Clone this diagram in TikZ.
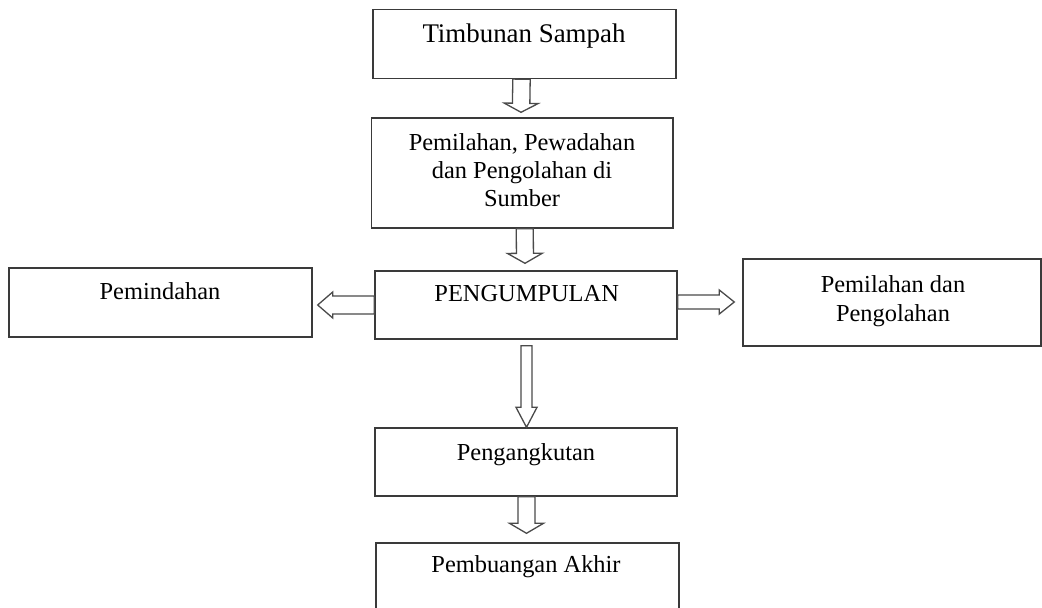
\documentclass[tikz,border=0pt]{standalone}
\usepackage{fontspec}
\setmainfont{Liberation Serif}
\usetikzlibrary{calc}
\tikzset{
  box/.style={draw=boxgray, line width=1.4bp, fill=white, inner sep=0pt},
  txt/.style={anchor=base, inner sep=0pt, font=\fontsize{24.5}{28}\selectfont},
  bigtxt/.style={anchor=base, inner sep=0pt, font=\fontsize{27}{30}\selectfont},
  arrowline/.style={draw=arrowgray, line width=1.3bp, fill=white, line join=miter},
}
\definecolor{boxgray}{HTML}{3A3A3A}
\definecolor{arrowgray}{HTML}{4A4A4A}
\newcommand{\blockarr}[5]{%
  \coordinate (ba-H) at ($(#2)!#5!(#1)$);
  \draw[arrowline] ($(#1)!#3!90:(#2)$) -- ($(ba-H)!#3!90:(#2)$) -- ($(ba-H)!#4!90:(#2)$) -- (#2)
    -- ($(ba-H)!#4!-90:(#2)$) -- ($(ba-H)!#3!-90:(#2)$) -- ($(#1)!#3!-90:(#2)$) -- cycle;}
\begin{document}
\begin{tikzpicture}[x=1bp,y=-1bp]
\useasboundingbox (0,0) rectangle (1042,608);
\fill[white] (0,0) rectangle (1042,608);
\clip (0,0) rectangle (1042,608);
% boxes
\node[box, minimum width=303bp, minimum height=69bp] (b1) at (524.5,44) {};
\node[box, minimum width=301.5bp, minimum height=110bp] (b2) at (522.25,173) {};
\node[box, minimum width=302bp, minimum height=68bp] (b3) at (526,305) {};
\node[box, minimum width=303bp, minimum height=69bp] (b4) at (160.5,302.5) {};
\node[box, minimum width=298bp, minimum height=87bp] (b5) at (892,302.5) {};
\node[box, minimum width=302bp, minimum height=68bp] (b6) at (526,462) {};
\node[box, minimum width=303bp, minimum height=69bp] (b7) at (527.5,577.5) {};
% texts
\node[bigtxt] (t1) at (524,43) {Timbunan Sampah};
\node[txt] (t2a) at (522,151) {Pemilahan, Pewadahan};
\node[txt] (t2b) at (522,179) {dan Pengolahan di};
\node[txt] (t2c) at (522,207) {Sumber};
\node[txt] (t3) at (526.7,302) {PENGUMPULAN};
\node[txt] (t4) at (160,300) {Pemindahan};
\node[txt] (t5a) at (893,293) {Pemilahan dan};
\node[txt] (t5b) at (893,321) {Pengolahan};
\node[txt] (t6) at (526,460) {Pengangkutan};
\node[txt] (t7) at (526,572) {Pembuangan Akhir};
% arrow end points
\coordinate (a1s) at ($(b1.south)+(-3,0)$);
\coordinate (a1e) at ($(b2.north)+(-1.25,-5)$);
\coordinate (a2s) at ($(b2.south)+(2.5,0)$);
\coordinate (a2e) at ($(b3.north)+(-1,-7)$);
\coordinate (a3s) at (b3.west);
\coordinate (a3e) at ($(b4.east)+(5,2.5)$);
\coordinate (a4s) at ($(b3.east)+(0,-3)$);
\coordinate (a4e) at ($(b5.west)+(-8,-0.5)$);
\coordinate (a5s) at ($(b3.south)+(0.5,6)$);
\coordinate (a5e) at ($(b6.north)+(0.5,0)$);
\coordinate (a6s) at ($(b6.south)+(0.5,0)$);
\coordinate (a6e) at ($(b7.north)+(-1,-9)$);
% block arrows
\blockarr{a1s}{a1e}{8.7bp}{17bp}{9bp}
\blockarr{a2s}{a2e}{8.5bp}{17.5bp}{10bp}
\blockarr{a3s}{a3e}{9bp}{13bp}{15bp}
\blockarr{a4s}{a4e}{7bp}{12bp}{15bp}
\blockarr{a5s}{a5e}{5.5bp}{10.5bp}{20bp}
\blockarr{a6s}{a6e}{8.5bp}{17bp}{10bp}
\end{tikzpicture}
\end{document}
